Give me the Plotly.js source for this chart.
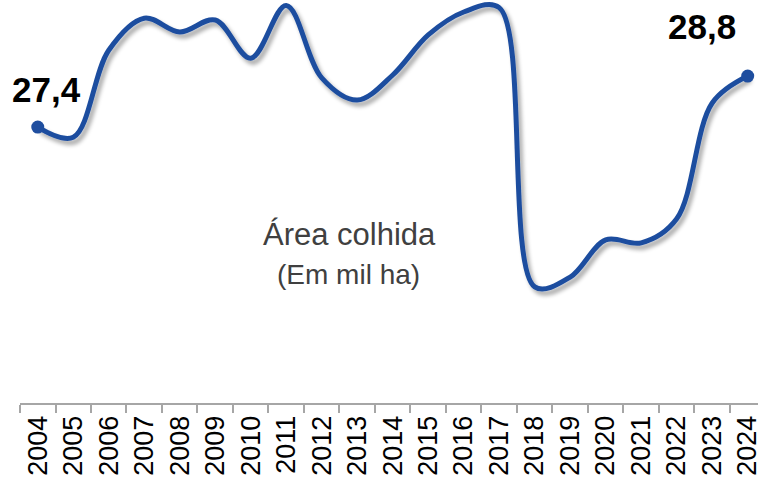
<!DOCTYPE html>
<html>
<head>
<meta charset="utf-8">
<script src="https://cdn.plot.ly/plotly-3.0.1.min.js"></script>
<style>
  html, body { margin: 0; padding: 0; background: #fff; }
  #chart { width: 758px; height: 492px; }
</style>
</head>
<body>
<div id="chart"></div>
<script>
// Data
const years = ["2004","2005","2006","2007","2008","2009","2010","2011","2012","2013","2014",
               "2015","2016","2017","2018","2019","2020","2021","2022","2023","2024"];
const area = [27.4, 27.12, 29.51, 30.39, 30.01, 30.34, 29.29, 30.74, 28.75, 28.14, 28.83,
              29.93, 30.56, 30.68, 23.01, 23.28, 24.30, 24.22, 24.88, 28.06, 28.8];
const chartTitle = "Área colhida";
const chartSubtitle = "(Em mil ha)";

const lineColor = "#1f4e9f";
const fmt = v => v.toFixed(1).replace(".", ",");
const last = area.length - 1;
const markerSizes = area.map((v, i) => (i === 0 || i === last) ? 13 : 0);
const FONT = "Liberation Sans, Arial, sans-serif";

const trace = {
  x: years,
  y: area,
  type: "scatter",
  mode: "lines+markers",
  line: { color: lineColor, width: 5, shape: "spline", smoothing: 1 },
  marker: { color: lineColor, size: markerSizes, opacity: 1, line: { width: 0, color: lineColor } },
  cliponaxis: false,
  hoverinfo: "skip"
};

const layout = {
  width: 758,
  height: 492,
  margin: { l: 20, r: 0, t: 0, b: 89, pad: 0 },
  paper_bgcolor: "#ffffff",
  plot_bgcolor: "#ffffff",
  showlegend: false,
  font: { family: FONT, color: "#000" },
  xaxis: {
    type: "category",
    range: [-0.5, 20.29],
    showgrid: false,
    zeroline: false,
    showline: true,
    linecolor: "#a6a6a6",
    linewidth: 2,
    ticks: "outside",
    tickson: "boundaries",
    ticklen: 8,
    tickwidth: 2,
    tickcolor: "#a6a6a6",
    tickangle: -90,
    tickfont: { size: 27, color: "#000", family: FONT },
    fixedrange: true
  },
  yaxis: {
    range: [19.82, 30.89],
    visible: false,
    showgrid: false,
    zeroline: false,
    fixedrange: true
  },
  annotations: [
    {
      x: 0, y: area[0], xref: "x", yref: "y",
      text: "<b>" + fmt(area[0]) + "</b>", showarrow: false,
      xanchor: "center", yanchor: "middle",
      xshift: 9, yshift: 38,
      font: { size: 35, color: "#000", family: FONT }
    },
    {
      x: last, y: area[last], xref: "x", yref: "y",
      text: "<b>" + fmt(area[last]) + "</b>", showarrow: false,
      xanchor: "center", yanchor: "middle",
      xshift: -46, yshift: 50,
      font: { size: 35, color: "#000", family: FONT }
    },
    {
      x: 0.447, y: 0.419, xref: "paper", yref: "paper",
      xanchor: "center", yanchor: "middle",
      text: chartTitle, showarrow: false,
      font: { size: 31, color: "#404040", family: FONT }
    },
    {
      x: 0.445, y: 0.32, xref: "paper", yref: "paper",
      xanchor: "center", yanchor: "middle",
      text: chartSubtitle, showarrow: false,
      font: { size: 28, color: "#404040", family: FONT }
    }
  ]
};

Plotly.newPlot("chart", [trace], layout, { staticPlot: true, displayModeBar: false }).then(gd => {
  // soft drop shadow under the line, like the original
  const svg = gd.querySelector("svg.main-svg");
  const ns = "http://www.w3.org/2000/svg";
  let defs = svg.querySelector("defs");
  if (!defs) { defs = document.createElementNS(ns, "defs"); svg.insertBefore(defs, svg.firstChild); }
  const f = document.createElementNS(ns, "filter");
  f.setAttribute("id", "lineShadow");
  f.setAttribute("x", "-10%"); f.setAttribute("y", "-10%");
  f.setAttribute("width", "130%"); f.setAttribute("height", "130%");
  f.innerHTML =
    '<feGaussianBlur in="SourceAlpha" stdDeviation="2" result="b"/>' +
    '<feOffset in="b" dx="3" dy="4" result="ob"/>' +
    '<feComponentTransfer in="ob" result="sh"><feFuncA type="linear" slope="0.35"/></feComponentTransfer>' +
    '<feMerge><feMergeNode in="sh"/><feMergeNode in="SourceGraphic"/></feMerge>';
  defs.appendChild(f);
  gd.querySelectorAll(".scatterlayer .trace path.js-line").forEach(p => p.setAttribute("filter", "url(#lineShadow)"));
});
</script>
</body>
</html>
